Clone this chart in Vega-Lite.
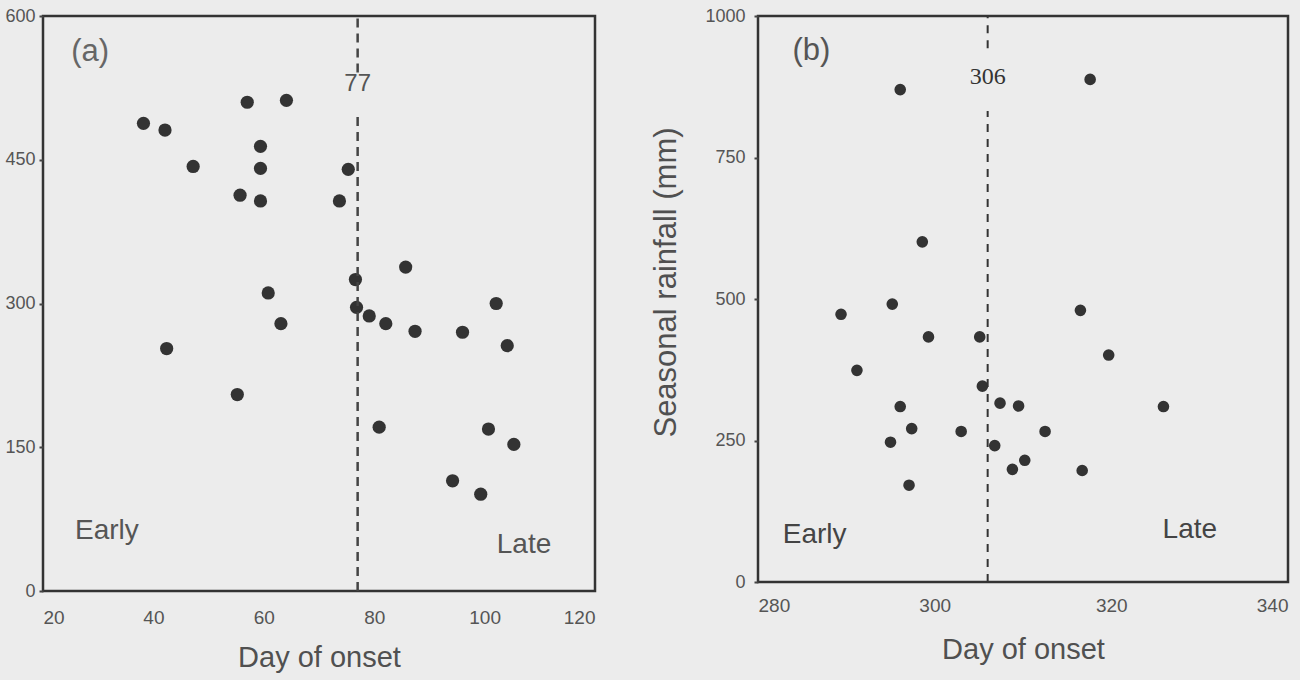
{
  "$schema": "https://vega.github.io/schema/vega-lite/v6.json",
  "background": "#ececec",
  "padding": {"left": 3, "top": 5, "right": 10, "bottom": 10},
  "spacing": 52,
  "config": {
    "font": "Liberation Sans",
    "view": {"stroke": "#333333", "strokeWidth": 2.5},
    "axis": {"grid": false, "domain": false, "labelColor": "#555555", "titleColor": "#505050", "labelFontSize": 19, "titleFontSize": 29, "titleFontWeight": "normal", "tickColor": "#444444", "tickSize": 4, "tickWidth": 2}
  },
  "datasets": {
    "a": [
      {"day": 38.2, "rain": 488}, {"day": 42.1, "rain": 481}, {"day": 57.0, "rain": 510}, {"day": 64.1, "rain": 512},
      {"day": 47.2, "rain": 443}, {"day": 59.4, "rain": 464}, {"day": 59.4, "rain": 441}, {"day": 55.7, "rain": 413},
      {"day": 59.4, "rain": 407}, {"day": 75.3, "rain": 440}, {"day": 73.7, "rain": 407}, {"day": 85.7, "rain": 338},
      {"day": 76.6, "rain": 325}, {"day": 60.8, "rain": 311}, {"day": 76.8, "rain": 296}, {"day": 79.1, "rain": 287},
      {"day": 82.1, "rain": 279}, {"day": 63.1, "rain": 279}, {"day": 87.4, "rain": 271}, {"day": 96.0, "rain": 270},
      {"day": 102.1, "rain": 300}, {"day": 104.1, "rain": 256}, {"day": 42.4, "rain": 253}, {"day": 55.2, "rain": 205},
      {"day": 80.9, "rain": 171}, {"day": 100.7, "rain": 169}, {"day": 105.3, "rain": 153}, {"day": 94.2, "rain": 115},
      {"day": 99.3, "rain": 101}
    ],
    "b": [
      {"day": 296.1, "rain": 870}, {"day": 317.6, "rain": 888}, {"day": 298.6, "rain": 601}, {"day": 289.4, "rain": 473},
      {"day": 295.2, "rain": 491}, {"day": 316.5, "rain": 480}, {"day": 299.3, "rain": 433}, {"day": 305.1, "rain": 433},
      {"day": 319.7, "rain": 401}, {"day": 291.2, "rain": 374}, {"day": 305.4, "rain": 346}, {"day": 296.1, "rain": 310},
      {"day": 307.4, "rain": 316}, {"day": 309.5, "rain": 311}, {"day": 325.9, "rain": 310}, {"day": 297.4, "rain": 271},
      {"day": 303.0, "rain": 266}, {"day": 312.5, "rain": 266}, {"day": 295.0, "rain": 247}, {"day": 306.8, "rain": 241},
      {"day": 310.2, "rain": 215}, {"day": 308.8, "rain": 199}, {"day": 316.7, "rain": 197}, {"day": 297.1, "rain": 171}
    ],
    "one": [{}]
  },
  "hconcat": [
    {
      "width": 552,
      "height": 575,
      "layer": [
        {
          "data": {"name": "a"},
          "mark": {"type": "circle", "size": 175, "color": "#333333", "opacity": 1},
          "encoding": {
            "x": {"field": "day", "type": "quantitative", "scale": {"domain": [20, 120], "nice": false, "zero": false},
                  "axis": {"values": [20, 40, 60, 80, 100, 120], "ticks": false, "labelPadding": 17, "title": "Day of onset", "titlePadding": 16}},
            "y": {"field": "rain", "type": "quantitative", "scale": {"domain": [0, 600], "nice": false},
                  "axis": {"values": [0, 150, 300, 450, 600], "title": null, "labelPadding": 4, "labelFontSize": 18, "format": "d"}}
          }
        },
        {
          "data": {"name": "one"},
          "mark": {"type": "rule", "strokeDash": [9, 6], "strokeWidth": 2.5, "color": "#444444"},
          "encoding": {"x": {"datum": 77}, "y": {"datum": 0}, "y2": {"datum": 497}}
        },
        {
          "data": {"name": "one"},
          "mark": {"type": "rule", "strokeDash": [9, 6], "strokeWidth": 2.5, "color": "#444444"},
          "encoding": {"x": {"datum": 77}, "y": {"datum": 541}, "y2": {"datum": 600}}
        },
        {
          "data": {"name": "one"},
          "mark": {"type": "text", "fontSize": 24, "color": "#555555", "baseline": "middle"},
          "encoding": {"x": {"datum": 77}, "y": {"datum": 529}, "text": {"value": "77"}}
        },
        {
          "data": {"name": "one"},
          "mark": {"type": "text", "fontSize": 31, "color": "#666666", "align": "left", "baseline": "middle"},
          "encoding": {"x": {"datum": 25.1}, "y": {"datum": 562}, "text": {"value": "(a)"}}
        },
        {
          "data": {"name": "one"},
          "mark": {"type": "text", "fontSize": 28, "color": "#555555", "align": "left", "baseline": "alphabetic"},
          "encoding": {"x": {"datum": 25.8}, "y": {"datum": 54}, "text": {"value": "Early"}}
        },
        {
          "data": {"name": "one"},
          "mark": {"type": "text", "fontSize": 28, "color": "#555555", "align": "left", "baseline": "alphabetic"},
          "encoding": {"x": {"datum": 102.2}, "y": {"datum": 40}, "text": {"value": "Late"}}
        }
      ]
    },
    {
      "width": 530,
      "height": 566,
      "layer": [
        {
          "data": {"name": "b"},
          "mark": {"type": "circle", "size": 135, "color": "#333333", "opacity": 1},
          "encoding": {
            "x": {"field": "day", "type": "quantitative", "scale": {"domain": [280, 340], "nice": false, "zero": false},
                  "axis": {"values": [280, 300, 320, 340], "ticks": false, "labelPadding": 14, "title": "Day of onset", "titlePadding": 20}},
            "y": {"field": "rain", "type": "quantitative", "scale": {"domain": [0, 1000], "nice": false},
                  "axis": {"values": [0, 250, 500, 750, 1000], "title": "Seasonal rainfall (mm)", "titleFontSize": 31, "titleY": 266, "labelFontSize": 18, "labelPadding": 9, "titlePadding": 22, "format": "d"}}
          }
        },
        {
          "data": {"name": "one"},
          "mark": {"type": "rule", "strokeDash": [8, 7], "strokeWidth": 2, "color": "#333333"},
          "encoding": {"x": {"datum": 306}, "y": {"datum": 0}, "y2": {"datum": 832}}
        },
        {
          "data": {"name": "one"},
          "mark": {"type": "rule", "strokeDash": [8, 7], "strokeWidth": 2, "color": "#333333"},
          "encoding": {"x": {"datum": 306}, "y": {"datum": 943}, "y2": {"datum": 1000}}
        },
        {
          "data": {"name": "one"},
          "mark": {"type": "text", "fontSize": 24, "color": "#333333", "font": "Liberation Serif", "baseline": "middle"},
          "encoding": {"x": {"datum": 306}, "y": {"datum": 892}, "text": {"value": "306"}}
        },
        {
          "data": {"name": "one"},
          "mark": {"type": "text", "fontSize": 31, "color": "#555555", "align": "left", "baseline": "middle"},
          "encoding": {"x": {"datum": 283.9}, "y": {"datum": 938}, "text": {"value": "(b)"}}
        },
        {
          "data": {"name": "one"},
          "mark": {"type": "text", "fontSize": 28, "color": "#444444", "align": "left", "baseline": "alphabetic"},
          "encoding": {"x": {"datum": 282.8}, "y": {"datum": 69}, "text": {"value": "Early"}}
        },
        {
          "data": {"name": "one"},
          "mark": {"type": "text", "fontSize": 28, "color": "#444444", "align": "left", "baseline": "alphabetic"},
          "encoding": {"x": {"datum": 325.8}, "y": {"datum": 78}, "text": {"value": "Late"}}
        }
      ]
    }
  ]
}
